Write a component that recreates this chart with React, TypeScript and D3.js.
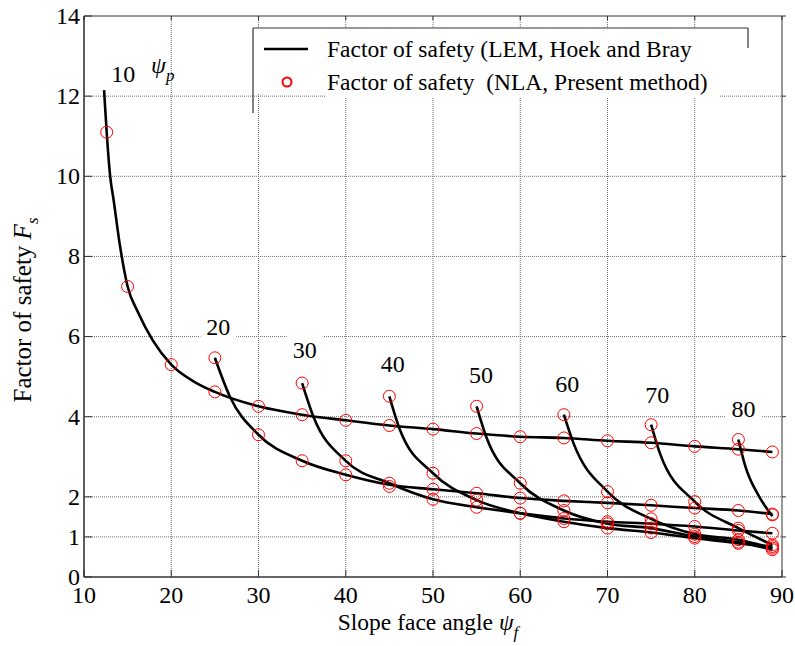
import { curveMonotoneX, line, scaleLinear } from "d3";

const xTicks = [10, 20, 30, 40, 50, 60, 70, 80, 90];
const yTicks = [0, 1, 2, 4, 6, 8, 10, 12, 14];
const psiP = [10, 20, 30, 40, 50, 60, 70, 80];
// where each psi_p label sits, in (slope face angle, Fs) units
const labelAngle = [14.5, 25.4, 35.3, 45.4, 55.5, 65.4, 75.7, 85.6];
const labelFs = [12.35, 6.05, 5.47, 5.12, 4.85, 4.62, 4.35, 4.0];

// LEM (Hoek and Bray) lines
const lemAngle10 = [12.3, 12.6, 13.0, 13.4, 14.1, 15, 16.2, 17.9, 20, 22.9, 25, 30, 35, 40, 45, 50, 55, 60, 65, 70, 75, 80, 85, 88.9];
const lemFs10 = [12.15, 11.1, 10.0, 9.4, 8.3, 7.25, 6.6, 5.9, 5.3, 4.84, 4.62, 4.26, 4.05, 3.91, 3.78, 3.69, 3.58, 3.5, 3.47, 3.4, 3.35, 3.26, 3.19, 3.12];
const lemAngle20 = [25, 26.7, 30, 35, 40, 45, 50, 55, 60, 65, 70, 75, 80, 85, 88.9];
const lemFs20 = [5.47, 4.51, 3.55, 2.9, 2.55, 2.3, 2.19, 2.09, 1.97, 1.9, 1.85, 1.79, 1.72, 1.66, 1.57];
const lemAngle30 = [35, 36.3, 40, 45, 50, 55, 60, 65, 70, 75, 80, 85, 88.9];
const lemFs30 = [4.84, 4.0, 2.9, 2.34, 1.94, 1.74, 1.59, 1.46, 1.38, 1.33, 1.26, 1.16, 1.09];
const lemAngle40 = [45, 46.2, 50, 55, 60, 65, 70, 75, 80, 85, 88.9];
const lemFs40 = [4.51, 3.68, 2.59, 1.92, 1.59, 1.38, 1.22, 1.11, 0.97, 0.84, 0.76];
const lemAngle50 = [55, 56.1, 60, 65, 70, 75, 80, 85, 88.9];
const lemFs50 = [4.26, 3.5, 2.34, 1.66, 1.33, 1.22, 1.01, 0.87, 0.68];
const lemAngle60 = [65, 66.1, 70, 75, 80, 85, 88.9];
const lemFs60 = [4.05, 3.34, 2.13, 1.45, 1.07, 0.93, 0.72];
const lemAngle70 = [75, 76, 80, 85, 88.9];
const lemFs70 = [3.8, 3.09, 1.88, 1.22, 0.8];
const lemAngle80 = [85, 85.8, 87.4, 88.9];
const lemFs80 = [3.43, 2.76, 2.0, 1.52];

// NLA (present method) points
const nlaAngle10 = [12.6, 15, 20, 25, 30, 35, 40, 45, 50, 55, 60, 65, 70, 75, 80, 85, 88.9];
const nlaFs10 = [11.1, 7.25, 5.3, 4.62, 4.26, 4.05, 3.91, 3.78, 3.69, 3.58, 3.5, 3.47, 3.4, 3.35, 3.26, 3.19, 3.12];
const nlaAngle20 = [25, 30, 35, 40, 45, 50, 55, 60, 65, 70, 75, 80, 85, 88.9];
const nlaFs20 = [5.47, 3.55, 2.9, 2.55, 2.26, 2.19, 2.09, 1.97, 1.9, 1.85, 1.79, 1.72, 1.66, 1.57];
const nlaAngle30 = [35, 40, 45, 50, 55, 60, 65, 70, 75, 80, 85, 88.9];
const nlaFs30 = [4.84, 2.9, 2.34, 1.94, 1.74, 1.59, 1.46, 1.38, 1.33, 1.26, 1.16, 1.09];
const nlaAngle40 = [45, 50, 55, 60, 65, 70, 75, 80, 85, 88.9];
const nlaFs40 = [4.51, 2.59, 1.92, 1.59, 1.38, 1.22, 1.11, 0.97, 0.84, 0.76];
const nlaAngle50 = [55, 60, 65, 70, 75, 80, 85, 88.9];
const nlaFs50 = [4.26, 2.34, 1.66, 1.33, 1.22, 1.01, 0.87, 0.68];
const nlaAngle60 = [65, 70, 75, 80, 85, 88.9];
const nlaFs60 = [4.05, 2.13, 1.45, 1.07, 0.93, 0.72];
const nlaAngle70 = [75, 80, 85, 88.9];
const nlaFs70 = [3.8, 1.88, 1.22, 0.8];
const nlaAngle80 = [85, 88.9];
const nlaFs80 = [3.43, 1.55];

const lemAngles = [lemAngle10, lemAngle20, lemAngle30, lemAngle40, lemAngle50, lemAngle60, lemAngle70, lemAngle80];
const lemFs = [lemFs10, lemFs20, lemFs30, lemFs40, lemFs50, lemFs60, lemFs70, lemFs80];
const nlaAngles = [nlaAngle10, nlaAngle20, nlaAngle30, nlaAngle40, nlaAngle50, nlaAngle60, nlaAngle70, nlaAngle80];
const nlaFs = [nlaFs10, nlaFs20, nlaFs30, nlaFs40, nlaFs50, nlaFs60, nlaFs70, nlaFs80];

const serif = "'Liberation Serif', 'Times New Roman', 'DejaVu Serif', serif";

const App = () => {
  const x = scaleLinear().domain([10, 90]).range([84, 782]);
  const y = scaleLinear().domain([0, 14]).range([577, 16]);

  const path = line<[number, number]>()
    .x((d) => x(d[0]))
    .y((d) => y(d[1]))
    .curve(curveMonotoneX);

  const lines = lemAngles.map((a, i) => a.map((v, j) => [v, lemFs[i][j]] as [number, number]));
  const dots = nlaAngles.flatMap((a, i) => a.map((v, j) => [v, nlaFs[i][j]]));

  const [x0, x1] = x.range();
  const [y0, y1] = y.range();

  return (
    <svg
      width={795}
      height={646}
      style={{ position: "absolute", left: 0, top: 0, background: "#fff", fontFamily: serif }}
    >
      {/* grid */}
      <g stroke="#6f6f6f" strokeWidth={1} strokeDasharray="1 1">
        {xTicks.slice(1, -1).map((t) => (
          <line key={"gx" + t} x1={x(t)} x2={x(t)} y1={y0} y2={y1} />
        ))}
        {yTicks.slice(1, -1).map((t) => (
          <line key={"gy" + t} x1={x0} x2={x1} y1={y(t)} y2={y(t)} />
        ))}
      </g>

      {/* legend box */}
      <rect x={253} y={28} width={495} height={66} fill="#fff" />
      <rect x={325} y={68} width={395} height={30} fill="#fff" />
      <g stroke="#333" strokeWidth={1.2}>
        <line x1={253} x2={748} y1={28} y2={28} />
        <line x1={253} x2={253} y1={28} y2={113} />
        <line x1={748} x2={748} y1={28} y2={48} />
      </g>

      {/* label backgrounds */}
      {psiP.map((p, i) => (
        <rect
          key={"lb" + p}
          x={x(labelAngle[i]) - 18}
          y={y(labelFs[i]) - 24}
          width={36}
          height={29}
          fill="#fff"
        />
      ))}

      {/* frame */}
      <g stroke="#333" fill="none">
        <line x1={x0} x2={x0} y1={y0} y2={y1} strokeWidth={1.6} />
        <line x1={x0} x2={x1} y1={y0} y2={y0} strokeWidth={1.6} />
        <line x1={x0} x2={x1} y1={y1} y2={y1} strokeWidth={1} />
        <line x1={x1} x2={x1} y1={y0} y2={y1} strokeWidth={1} />
        {yTicks.map((t) => (
          <g key={"ty" + t}>
            <line x1={x0} x2={x0 + 8} y1={y(t)} y2={y(t)} />
            <line x1={x1} x2={x1 + 4} y1={y(t)} y2={y(t)} />
          </g>
        ))}
        {xTicks.map((t) => (
          <g key={"tx" + t}>
            <line x1={x(t)} x2={x(t)} y1={y0} y2={y0 - 7} />
            <line x1={x(t)} x2={x(t)} y1={y1} y2={y1 + 4} />
          </g>
        ))}
      </g>

      {/* LEM curves */}
      <g fill="none" stroke="#000" strokeWidth={2.6} strokeLinejoin="round">
        {lines.map((d, i) => (
          <path key={"c" + psiP[i]} d={path(d) ?? ""} />
        ))}
      </g>

      {/* NLA points */}
      <g fill="none" stroke="#ff0000" strokeWidth={1}>
        {dots.map((d, i) => (
          <circle key={"p" + i} cx={x(d[0])} cy={y(d[1])} r={6} />
        ))}
      </g>

      {/* tick labels */}
      <g fontSize={24} fill="#000">
        {yTicks.map((t) => (
          <text key={"ly" + t} x={x0 - 4} y={y(t)} dy="0.33em" textAnchor="end">
            {t}
          </text>
        ))}
        {xTicks.map((t) => (
          <text key={"lx" + t} x={x(t)} y={y0 + 26} textAnchor="middle">
            {t}
          </text>
        ))}
      </g>

      {/* psi_p labels */}
      <g fontSize={24} fill="#000" textAnchor="middle">
        {psiP.map((p, i) => (
          <text key={"pl" + p} x={x(labelAngle[i])} y={y(labelFs[i])}>
            {p}
          </text>
        ))}
      </g>
      <text x={151} y={73} fontSize={24} fontStyle="italic">
        ψ
        <tspan fontSize={17} dy={8} fontStyle="italic">
          p
        </tspan>
      </text>

      {/* legend entries */}
      <line x1={264} x2={308} y1={49} y2={49} stroke="#000" strokeWidth={2.6} />
      <text x={327} y={57} fontSize={23.5} style={{ whiteSpace: "pre" }}>
        Factor of safety (LEM, Hoek and Bray
      </text>
      <circle cx={287} cy={82} r={4.5} fill="none" stroke="#ff0000" strokeWidth={2} />
      <text x={327} y={90} fontSize={23.5} style={{ whiteSpace: "pre" }}>
        {"Factor of safety  (NLA, Present method)"}
      </text>

      {/* axis titles */}
      <text x={428} y={630} fontSize={23.5} textAnchor="middle">
        Slope face angle{" "}
        <tspan fontStyle="italic">ψ</tspan>
        <tspan fontSize={17} dy={8} fontStyle="italic">
          f
        </tspan>
      </text>
      <text transform="translate(31,310) rotate(-90)" fontSize={25} textAnchor="middle">
        Factor of safety <tspan fontStyle="italic">F</tspan>
        <tspan fontSize={17} dy={7} fontStyle="italic">
          s
        </tspan>
      </text>
    </svg>
  );
};

export default App;
